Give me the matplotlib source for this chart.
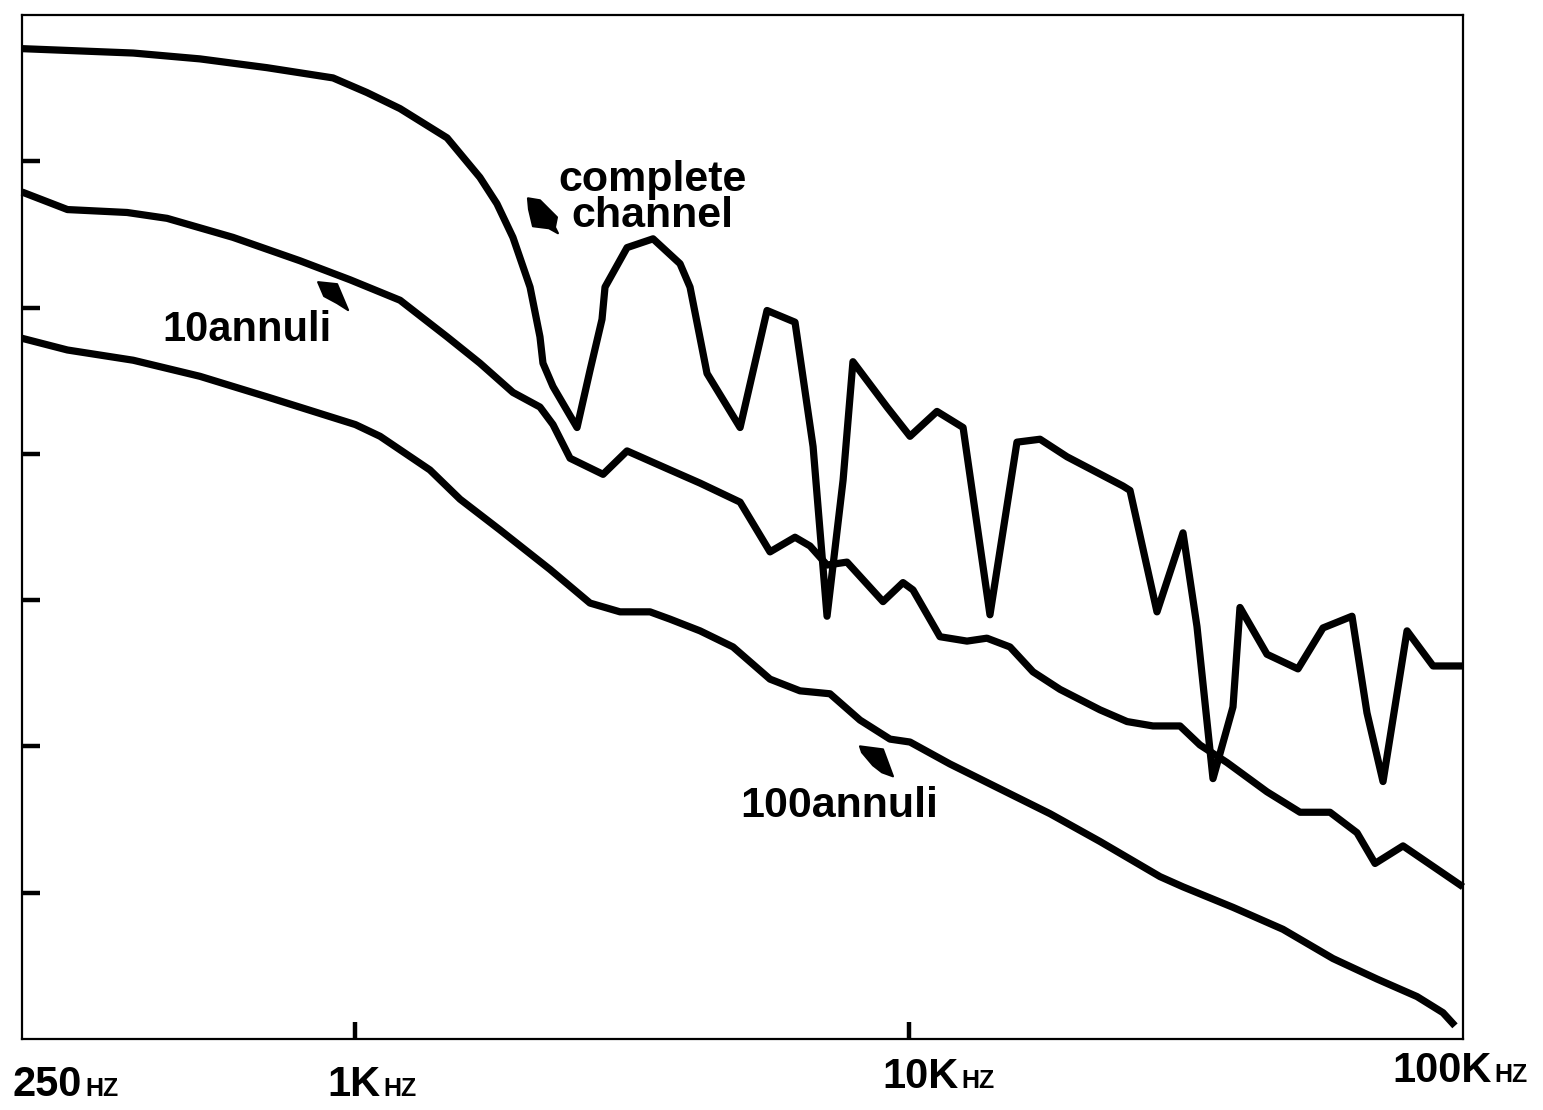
import matplotlib
matplotlib.use("Agg")
import matplotlib.pyplot as plt
from matplotlib.patches import Polygon
from matplotlib.ticker import NullLocator, NullFormatter
from matplotlib.transforms import ScaledTranslation, blended_transform_factory
from matplotlib.offsetbox import TextArea, HPacker, AnnotationBbox

plt.rcParams['font.family'] = ['Liberation Sans', 'DejaVu Sans']

# ---------------- data (frequency in Hz, relative level in grid units) ----------------
complete_freq = [250, 397, 524, 692, 911, 1049, 1204, 1464, 1678, 1801, 1925, 2067, 2154,
                 2181, 2274, 2513, 2652, 2788, 2823, 3094, 3447, 3856, 4020, 4314, 4950,
                 5537, 6220, 6705, 7106, 7596, 7914, 9118, 10033, 11224, 12511, 13990,
                 15652, 17228, 19275, 24323, 25044, 28017, 31218, 33085, 35363, 38430,
                 39561, 44259, 50350, 55870, 63030, 67080, 71710, 79240, 88300, 100000]
complete_level = [6.77, 6.74, 6.70, 6.64, 6.57, 6.47, 6.36, 6.16, 5.89, 5.71, 5.48, 5.14, 4.80,
                  4.62, 4.46, 4.18, 4.57, 4.92, 5.14, 5.41, 5.47, 5.30, 5.14, 4.55, 4.18,
                  4.98, 4.90, 4.05, 2.89, 3.82, 4.63, 4.32, 4.12, 4.29, 4.18, 2.90,
                  4.08, 4.10, 3.98, 3.78, 3.75, 2.92, 3.46, 2.82, 1.78, 2.27,
                  2.95, 2.63, 2.53, 2.81, 2.89, 2.23, 1.76, 2.79, 2.55, 2.55]

annuli10_freq = [250, 302, 387, 457, 601, 794, 978, 1204, 1464, 1678, 1925, 2154, 2274, 2441,
                 2800, 3094, 3700, 4191, 4950, 5606, 6220, 6621, 7106, 7722, 8968, 9745,
                 10158, 11364, 12716, 13815, 15205, 16730, 18720, 22110, 24740, 27550,
                 30830, 33500, 37480, 44259, 50780, 57520, 64360, 69370, 77930, 100000]
annuli10_level = [5.79, 5.67, 5.65, 5.61, 5.48, 5.32, 5.19, 5.05, 4.80, 4.62, 4.42, 4.32, 4.20, 3.97,
                  3.86, 4.02, 3.89, 3.80, 3.67, 3.33, 3.43, 3.37, 3.24, 3.26, 2.99, 3.12,
                  3.07, 2.75, 2.72, 2.74, 2.68, 2.51, 2.39, 2.25, 2.17, 2.14,
                  2.14, 2.01, 1.89, 1.69, 1.55, 1.55, 1.41, 1.20, 1.32, 1.04]

annuli100_freq = [250, 302, 397, 524, 692, 1000, 1108, 1363, 1545, 1824, 2246, 2652, 3005, 3404,
                  3700, 4191, 4807, 5606, 6350, 7193, 8150, 9233, 10033, 11845, 14582, 17960,
                  22110, 28370, 31218, 38430, 47300, 58240, 69940, 82600, 92000, 96720]
annuli100_level = [4.79, 4.71, 4.64, 4.53, 4.39, 4.20, 4.12, 3.89, 3.69, 3.48, 3.21, 2.98, 2.92, 2.92,
                   2.87, 2.79, 2.68, 2.46, 2.38, 2.36, 2.18, 2.05, 2.03, 1.88, 1.71, 1.54,
                   1.35, 1.11, 1.04, 0.90, 0.75, 0.55, 0.41, 0.29, 0.18, 0.09]

ytick_values = [1, 2, 3, 4, 5, 6]
xtick_freqs = [1000, 10000]
label_freqs = [250, 1000, 10000, 100000]
label_main = ['250', '1K', '10K', '100K']
label_unit = 'HZ'

# ---------------- figure ----------------
W, H, DPI = 1543, 1110, 100
fig = plt.figure(figsize=(W / DPI, H / DPI), dpi=DPI)
ax = fig.add_axes([22 / W, 1 - 1039 / H, (1463 - 22) / W, (1039 - 15) / H])
ax.set_xscale('log')
ax.set_xlim(250, 100000)
ax.set_ylim(0, 7)

lw = 5.2
for fr, lv in [(complete_freq, complete_level), (annuli10_freq, annuli10_level),
               (annuli100_freq, annuli100_level)]:
    ax.plot(fr, lv, color='black', lw=lw, solid_joinstyle='round', solid_capstyle='butt',
            clip_on=False)

for s in ax.spines.values():
    s.set_linewidth(1.6)

ax.set_yticks(ytick_values)
ax.yaxis.set_major_formatter(NullFormatter())
ax.set_xticks(xtick_freqs)
ax.xaxis.set_minor_locator(NullLocator())
ax.xaxis.set_major_formatter(NullFormatter())
ax.tick_params(axis='y', direction='in', length=13, width=3.2, left=True, right=False)
ax.tick_params(axis='x', direction='in', length=12, width=3.2, bottom=True, top=False)

# ---------------- x labels "250 HZ" etc ----------------
blend = blended_transform_factory(ax.transData, ax.transAxes)
label_dx_px = [-9, -28, -27, -71]
label_dy_px = [-46, -46, -38, -32]
for f, main, dx, dy in zip(label_freqs, label_main, label_dx_px, label_dy_px):
    t1 = TextArea(main, textprops=dict(fontsize=30, fontweight='bold', color='black'))
    t2 = TextArea(label_unit, textprops=dict(fontsize=18, fontweight='bold', color='black'))
    box = HPacker(children=[t1, t2], align='baseline', pad=0, sep=2)
    ab = AnnotationBbox(box, (f, 0), xycoords=blend, xybox=(dx * 0.72, dy * 0.72),
                        boxcoords='offset points', box_alignment=(0, 0.5), frameon=False,
                        annotation_clip=False)
    ax.add_artist(ab)

# ---------------- annotations ----------------
ax.text(3433, 5.75, 'complete\nchannel', fontsize=31, fontweight='bold', ha='center',
        va='center', multialignment='center', linespacing=0.85)
ax.text(449, 4.77, '10annuli', fontsize=30, fontweight='bold', ha='left', va='baseline')
ax.text(4950, 1.515, '100annuli', fontsize=31, fontweight='bold', ha='left', va='baseline')


def mark(xd, yd, verts_px):
    tr = fig.dpi_scale_trans + ScaledTranslation(xd, yd, ax.transData)
    pts = [(vx / DPI, -vy / DPI) for vx, vy in verts_px]
    ax.add_patch(Polygon(pts, closed=True, transform=tr, facecolor='black',
                         edgecolor='black', lw=1.5, joinstyle='round', clip_on=False))


mark(2181, 5.631, [(-15, -17), (-3, -15), (14, 2), (12, 12), (15, 18), (6, 13), (-10, 11), (-14, -6)])
mark(919, 5.085, [(-17, -13), (2, -11), (13, 15), (2, 8), (-11, 1)])
mark(8710, 1.898, [(-16, -15), (7, -12), (17, 15), (6, 11), (-3, 4), (-14, -9)])

fig.savefig('out.png', dpi=DPI)
